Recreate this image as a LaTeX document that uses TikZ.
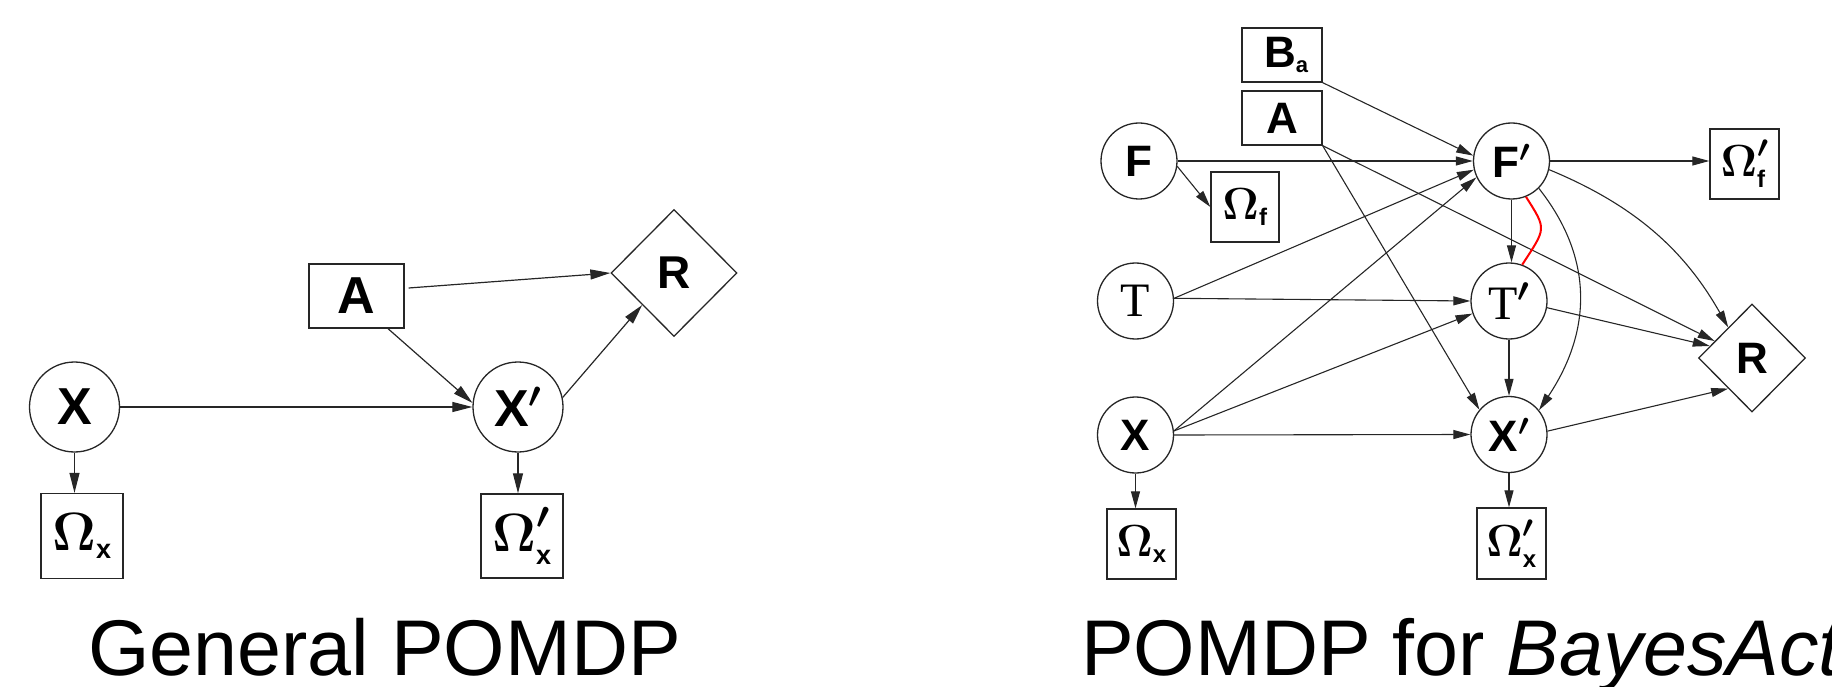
\RequirePackage{fix-cm}
\documentclass[tikz,border=0pt]{standalone}
\usepackage{amsmath}
\usepackage{fontspec}
\setmainfont{Liberation Sans}
\newfontfamily\tmfont{Liberation Serif}
\usetikzlibrary{shapes.geometric,arrows.meta,calc}
\newcommand{\fsz}[1]{\fontsize{#1}{#1}\selectfont}
\newcommand{\pr}{{}^{\boldsymbol{\prime}}}
\newcommand{\Om}{\boldsymbol{\Omega}}
\tikzset{
  lcirc/.style={circle, draw=black!85, line width=1.3pt, minimum size=90pt, inner sep=0pt},
  rcirc/.style={circle, draw=black!85, line width=1.3pt, minimum size=76pt, inner sep=0pt},
  bx/.style={rectangle, draw=black!85, line width=1.3pt, inner sep=0pt},
  dia/.style={diamond, draw=black!85, line width=1.3pt, inner sep=0pt},
  lnk/.style={draw=black!85, line width=1.2pt, -{Triangle[length=20pt,width=10pt]}},
  rlnk/.style={draw=black!85, line width=1.1pt, -{Triangle[length=17pt,width=9pt]}},
  redl/.style={draw=red, line width=2pt},
  ttl/.style={anchor=base west, inner sep=0pt, text depth=0pt, font=\fsz{79}}
}
\begin{document}
\begin{tikzpicture}[x=1pt,y=-1pt]
\useasboundingbox (0,0) rectangle (1832,687);
% ---------- General POMDP ----------
\node[lcirc] (X) at (74.5,407) {\fsz{52}\bfseries X};
\node[bx, minimum width=82pt, minimum height=85pt] (Ox) at (82,536)
  {\fsz{54}$\Om_{\hbox{\fsz{27}\bfseries x}}$};
\node[bx, minimum width=95pt, minimum height=64pt] (A) at (356.5,296) {\fsz{52}\bfseries A};
\node[lcirc] (Xp) at (518,407) {\fsz{52}\bfseries X$\pr$};
\node[bx, minimum width=82pt, minimum height=84pt] (Oxp) at (522,536)
  {\fsz{54}$\Om^{\boldsymbol{\prime}}_{\hbox{\fsz{27}\bfseries x}}$};
\node[dia, minimum width=126pt, minimum height=127pt] (R) at (674,273) {\fsz{46}\bfseries R};

\draw[lnk] (X.east) -- (Xp.west);
\draw[lnk] (X.south) -- (X.south |- Ox.north);
\draw[lnk] ([xshift=31.5pt]A.south) -- (Xp.175);
\draw[lnk] ([shift={(4,-8)}]A.east) -- (R.west);
\draw[lnk] (Xp.12) -- (R.south west);
\draw[lnk] (Xp.south) -- (Xp.south |- Oxp.north);

\node[ttl] (t1) at (88,675) {General POMDP};

% ---------- POMDP for BayesAct ----------
\node[bx, minimum width=80pt, minimum height=54pt] (Ba) at (1282,55)
  {\fsz{44}\bfseries\hspace*{8pt}B\raisebox{-5pt}{\fsz{22}a}};
\node[bx, minimum width=80pt, minimum height=54pt] (Ar) at (1282,118) {\fsz{44}\bfseries A};
\node[rcirc] (F) at (1139,161) {\fsz{44}\bfseries F};
\node[bx, minimum width=68pt, minimum height=70pt] (Of) at (1245,207)
  {\fsz{45}$\Om_{\hbox{\fsz{24}\bfseries f}}$};
\node[rcirc] (T) at (1135.5,301) {\fsz{48}\tmfont T};
\node[rcirc] (Xr) at (1135.5,435) {\fsz{44}\bfseries X};
\node[bx, minimum width=69pt, minimum height=70pt] (Oxr) at (1141.5,544)
  {\fsz{45}$\Om_{\hbox{\fsz{24}\bfseries x}}$};
\node[rcirc] (Fp) at (1511.5,161) {\fsz{44}\bfseries F$\pr$};
\node[rcirc] (Tp) at (1509,301) {\fsz{48}\tmfont T$\pr$};
\node[rcirc] (Xpr) at (1509,434.5) {\fsz{44}\bfseries X$\pr$};
\node[bx, minimum width=69pt, minimum height=71pt] (Oxpr) at (1511.5,543.5)
  {\fsz{45}$\Om^{\boldsymbol{\prime}}_{\hbox{\fsz{24}\bfseries x}}$};
\node[bx, minimum width=69pt, minimum height=70pt] (Ofp) at (1744.5,164)
  {\fsz{45}$\Om^{\boldsymbol{\prime}}_{\hbox{\fsz{24}\bfseries f}}$};
\node[dia, minimum width=107pt, minimum height=108pt] (Rr) at (1752,358) {\fsz{44}\bfseries R};

\draw[rlnk] (Ba.south east) -- (Fp.172);
\draw[rlnk] (F.east) -- (Fp.west);
\draw[rlnk] (F.-8) -- (Of.west);
\draw[rlnk] (T.4) -- (Fp.193);
\draw[rlnk] (T.4) -- (Tp.west);
\draw[rlnk] (Xr.6) -- (Fp.205);
\draw[rlnk] (Xr.6) -- (Tp.199);
\draw[rlnk] (Xr.east) -- (Xpr.west);
\draw[rlnk] (Ar.south east) -- (Xpr.140);
\draw[rlnk] (Ar.south east) -- ($(Rr.west)!0.31!(Rr.north)$);
\draw[rlnk] (Fp.east) -- (Fp.east -| Ofp.west);
\draw[rlnk] (Fp.south) -- (Fp.south |- Tp.north);
\draw[rlnk] (Tp.south) -- (Tp.south |- Xpr.north);
\draw[rlnk] (Tp.-10) -- ($(Rr.west)!0.22!(Rr.north)$);
\draw[rlnk] (Xpr.5) -- ($(Rr.west)!0.56!(Rr.south)$);
\draw[rlnk] (Fp.-13) .. controls +(87,36) and +(-43,-76) .. ($(Rr.west)!0.56!(Rr.north)$);
\draw[rlnk] (Fp.-45) .. controls +(56,71) and +(52,-78) .. (Xpr.39);
\draw[redl] (Fp.-68) .. controls +(21,33) and +(24,-37) .. (Tp.70);
\draw[rlnk] (Xr.south) -- (Xr.south |- Oxr.north);
\draw[rlnk] (Xpr.south) -- (Xpr.south |- Oxpr.north);

\node[ttl] (t2) at (1081,675) {POMDP for \textit{BayesAct}};
\end{tikzpicture}
\end{document}
